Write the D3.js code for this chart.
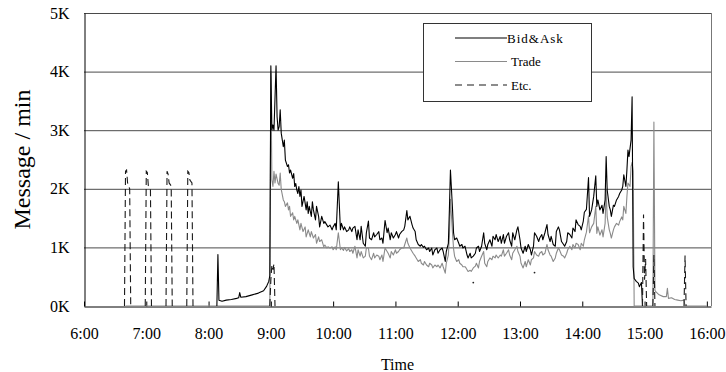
<!DOCTYPE html>
<html>
<head>
<meta charset="utf-8">
<script src="https://cdn.jsdelivr.net/npm/d3@7"></script>
<style>
  html, body { margin: 0; padding: 0; background: #fff; }
  svg { display: block; }
  svg text { font-family: "Liberation Serif", "Tinos", "Times New Roman", "DejaVu Serif", serif; }
</style>
</head>
<body>
<div id="chart"></div>
<script>
// Tick labels
const hourTicks = ["6:00", "7:00", "8:00", "9:00", "10:00", "11:00", "12:00", "13:00", "14:00", "15:00", "16:00"];
const yTicks = [0, 1000, 2000, 3000, 4000, 5000];
const xStart = "6:00", xEnd = "16:04";
const legendNames = ["Bid&Ask", "Trade", "Etc."];

// Messages per minute, [clock, value]
const bidAsk = [
  ["8:08", 0], ["8:09", 880], ["8:10", 100], ["8:13", 80], ["8:17", 100], ["8:22", 110], ["8:27", 130],
  ["8:29", 140], ["8:30", 230], ["8:31", 150], ["8:36", 160], ["8:42", 190], ["8:48", 220], ["8:53", 260],
  ["8:56", 340], ["8:58", 420], ["8:59", 520],
  ["9:00", 4100], ["9:01", 3000], ["9:02", 3090], ["9:03", 3000], ["9:05", 4100], ["9:06", 3230], ["9:07", 3000],
  ["9:08", 3060], ["9:09", 3350], ["9:10", 2950], ["9:12", 2720], ["9:13", 2830], ["9:14", 2490], ["9:16", 2380],
  ["9:17", 2410], ["9:18", 2270], ["9:19", 2320], ["9:21", 2180], ["9:22", 2260], ["9:23", 2040], ["9:24", 2090],
  ["9:25", 1980], ["9:26", 1920], ["9:27", 2040], ["9:28", 1870], ["9:29", 1980], ["9:30", 1700], ["9:32", 1870],
  ["9:33", 1760], ["9:34", 1640], ["9:35", 1780], ["9:36", 1580], ["9:37", 1700], ["9:39", 1530], ["9:40", 1780],
  ["9:41", 1640], ["9:43", 1470], ["9:44", 1700], ["9:46", 1530], ["9:47", 1350], ["9:49", 1530], ["9:51", 1410],
  ["9:52", 1440], ["9:54", 1380], ["9:55", 1350], ["9:57", 1380], ["9:59", 1300], ["10:00", 1350], ["10:02", 1410],
  ["10:03", 1300], ["10:05", 2120], ["10:07", 1300], ["10:08", 1410], ["10:10", 1300], ["10:11", 1350], ["10:13", 1270],
  ["10:15", 1300], ["10:16", 1350], ["10:18", 1270], ["10:19", 1330], ["10:21", 1360], ["10:23", 1130], ["10:24", 1300],
  ["10:26", 1130], ["10:27", 1360], ["10:29", 1070], ["10:31", 1020], ["10:32", 1250], ["10:34", 1450], ["10:35", 1160],
  ["10:37", 1130], ["10:39", 1250], ["10:40", 1180], ["10:42", 1220], ["10:44", 1270], ["10:45", 1130], ["10:47", 1160],
  ["10:48", 1070], ["10:50", 1460], ["10:52", 1250], ["10:53", 1330], ["10:55", 1130], ["10:56", 1250], ["10:58", 1160],
  ["11:00", 1220], ["11:01", 1270], ["11:03", 1160], ["11:04", 1220], ["11:06", 1270], ["11:08", 1300], ["11:09", 1360],
  ["11:11", 1630], ["11:12", 1470], ["11:14", 1530], ["11:16", 1390], ["11:17", 1330], ["11:19", 1270], ["11:20", 1130],
  ["11:22", 1050], ["11:24", 1020], ["11:25", 1050], ["11:27", 1000], ["11:28", 1020], ["11:30", 960], ["11:32", 990],
  ["11:33", 930], ["11:35", 990], ["11:36", 870], ["11:38", 960], ["11:40", 990], ["11:41", 900], ["11:43", 960],
  ["11:45", 990], ["11:46", 930], ["11:48", 760], ["11:49", 930], ["11:51", 1070], ["11:52", 1650], ["11:53", 2320],
  ["11:55", 1650], ["11:56", 1250], ["11:57", 1130], ["11:59", 1160], ["12:01", 1070], ["12:02", 1020], ["12:04", 1050],
  ["12:05", 990], ["12:07", 1020], ["12:09", 870], ["12:10", 820], ["12:12", 900], ["12:13", 820], ["12:15", 850],
  ["12:17", 900], ["12:18", 990], ["12:20", 1020], ["12:21", 930], ["12:23", 1020], ["12:25", 1250], ["12:26", 1070],
  ["12:28", 960], ["12:29", 1050], ["12:31", 1130], ["12:33", 1020], ["12:34", 1190], ["12:36", 1130], ["12:37", 1220],
  ["12:39", 1100], ["12:41", 1190], ["12:42", 1070], ["12:44", 1220], ["12:45", 1070], ["12:47", 1190], ["12:49", 1250],
  ["12:50", 1130], ["12:52", 1020], ["12:53", 1250], ["12:55", 1130], ["12:57", 1300], ["12:58", 1350], ["13:00", 1130],
  ["13:01", 990], ["13:03", 900], ["13:05", 1020], ["13:06", 930], ["13:08", 1050], ["13:10", 960], ["13:11", 870],
  ["13:13", 1020], ["13:14", 1250], ["13:16", 1190], ["13:18", 1100], ["13:19", 1160], ["13:21", 1220], ["13:22", 1130],
  ["13:24", 1250], ["13:26", 1390], ["13:27", 1220], ["13:29", 1100], ["13:30", 1190], ["13:32", 1050], ["13:34", 1020],
  ["13:35", 1270], ["13:37", 1350], ["13:38", 1300], ["13:40", 1100], ["13:42", 1050], ["13:43", 1020], ["13:45", 1100],
  ["13:46", 1250], ["13:48", 1220], ["13:50", 1160], ["13:51", 1330], ["13:53", 1270], ["13:54", 1470], ["13:56", 1390],
  ["13:58", 1360], ["13:59", 1300], ["14:01", 1450], ["14:02", 1600], ["14:04", 1650], ["14:06", 2190], ["14:07", 1530],
  ["14:09", 1640], ["14:11", 1870], ["14:13", 2220], ["14:14", 1700], ["14:15", 1810], ["14:17", 1640], ["14:19", 1720],
  ["14:20", 1580], ["14:22", 1810], ["14:23", 2550], ["14:24", 1980], ["14:26", 1700], ["14:27", 1640], ["14:28", 1530],
  ["14:30", 1720], ["14:31", 1700], ["14:33", 1810], ["14:35", 1870], ["14:36", 1920], ["14:38", 1980], ["14:39", 2040],
  ["14:40", 2240], ["14:42", 2040], ["14:43", 2320], ["14:44", 2660], ["14:45", 2550], ["14:47", 2830], ["14:48", 3570],
  ["14:49", 670], ["14:50", 470], ["14:52", 420], ["14:54", 390], ["14:55", 330], ["14:57", 400], ["14:58", 0]
];

const trade = [
  ["6:40", 0], ["8:59", 0],
  ["9:00", 4000], ["9:01", 2150], ["9:02", 2040], ["9:03", 2300], ["9:04", 2100], ["9:05", 2250], ["9:07", 2090],
  ["9:08", 2060], ["9:09", 2270], ["9:10", 1990], ["9:12", 1810], ["9:13", 1780], ["9:14", 1700], ["9:16", 1760],
  ["9:17", 1640], ["9:18", 1700], ["9:19", 1530], ["9:21", 1590], ["9:22", 1470], ["9:23", 1530], ["9:25", 1410],
  ["9:26", 1470], ["9:28", 1300], ["9:29", 1410], ["9:31", 1270], ["9:33", 1350], ["9:34", 1180], ["9:36", 1300],
  ["9:38", 1180], ["9:39", 1270], ["9:41", 1160], ["9:43", 1220], ["9:44", 1070], ["9:46", 1180], ["9:47", 1100],
  ["9:49", 1130], ["9:51", 1010], ["9:52", 1040], ["9:54", 990], ["9:55", 1010], ["9:57", 990], ["9:59", 1010],
  ["10:00", 960], ["10:02", 1010], ["10:03", 960], ["10:05", 1250], ["10:07", 960], ["10:08", 990], ["10:10", 950],
  ["10:11", 1000], ["10:13", 940], ["10:15", 980], ["10:16", 930], ["10:18", 960], ["10:19", 900], ["10:21", 1020],
  ["10:23", 820], ["10:24", 960], ["10:26", 850], ["10:27", 930], ["10:29", 820], ["10:31", 850], ["10:32", 990],
  ["10:34", 990], ["10:35", 850], ["10:37", 790], ["10:39", 900], ["10:40", 820], ["10:42", 870], ["10:44", 850],
  ["10:45", 790], ["10:47", 870], ["10:48", 760], ["10:50", 990], ["10:52", 930], ["10:53", 900], ["10:55", 820],
  ["10:56", 930], ["10:58", 870], ["11:00", 960], ["11:01", 900], ["11:03", 930], ["11:04", 960], ["11:06", 990],
  ["11:08", 990], ["11:09", 1050], ["11:11", 1160], ["11:12", 1070], ["11:14", 990], ["11:16", 930], ["11:17", 900],
  ["11:19", 850], ["11:20", 820], ["11:22", 760], ["11:24", 790], ["11:25", 730], ["11:27", 700], ["11:28", 760],
  ["11:30", 700], ["11:32", 670], ["11:33", 730], ["11:35", 700], ["11:36", 650], ["11:38", 700], ["11:40", 670],
  ["11:41", 700], ["11:43", 650], ["11:45", 730], ["11:46", 670], ["11:48", 560], ["11:49", 730], ["11:51", 870],
  ["11:52", 1190], ["11:53", 1820], ["11:55", 1240], ["11:56", 980], ["11:57", 850], ["11:59", 760], ["12:01", 790],
  ["12:02", 730], ["12:04", 700], ["12:05", 670], ["12:07", 670], ["12:08", 650], ["12:10", 590], ["12:12", 610],
  ["12:13", 590], ["12:15", 650], ["12:17", 680], ["12:18", 730], ["12:20", 650], ["12:21", 760], ["12:23", 850],
  ["12:25", 930], ["12:26", 730], ["12:28", 670], ["12:29", 760], ["12:31", 820], ["12:33", 790], ["12:34", 850],
  ["12:36", 820], ["12:37", 870], ["12:39", 820], ["12:41", 870], ["12:42", 850], ["12:44", 960], ["12:45", 850],
  ["12:47", 900], ["12:49", 960], ["12:50", 870], ["12:52", 790], ["12:53", 900], ["12:55", 960], ["12:57", 1020],
  ["12:58", 930], ["13:00", 850], ["13:01", 730], ["13:03", 650], ["13:05", 760], ["13:06", 670], ["13:08", 790],
  ["13:10", 700], ["13:11", 790], ["13:13", 820], ["13:14", 930], ["13:16", 870], ["13:18", 850], ["13:19", 900],
  ["13:21", 930], ["13:22", 870], ["13:24", 900], ["13:26", 1050], ["13:27", 960], ["13:29", 870], ["13:30", 850],
  ["13:32", 760], ["13:34", 820], ["13:35", 900], ["13:37", 990], ["13:38", 960], ["13:40", 870], ["13:42", 850],
  ["13:43", 820], ["13:45", 900], ["13:46", 960], ["13:48", 1020], ["13:50", 960], ["13:51", 1050], ["13:53", 990],
  ["13:54", 1070], ["13:56", 1050], ["13:58", 960], ["13:59", 1070], ["14:01", 1020], ["14:02", 1130], ["14:04", 1260],
  ["14:06", 1540], ["14:07", 1250], ["14:09", 1350], ["14:11", 1410], ["14:13", 1700], ["14:14", 1240], ["14:15", 1350],
  ["14:17", 1210], ["14:19", 1300], ["14:20", 1180], ["14:22", 1410], ["14:23", 1980], ["14:24", 1520], ["14:26", 1300],
  ["14:27", 1240], ["14:28", 1160], ["14:30", 1300], ["14:31", 1350], ["14:33", 1410], ["14:35", 1380], ["14:36", 1440],
  ["14:38", 1520], ["14:39", 1470], ["14:40", 1700], ["14:42", 1580], ["14:43", 1870], ["14:44", 2100], ["14:46", 2040],
  ["14:47", 2380], ["14:48", 2450], ["14:49", 2300], ["14:50", 0],
  ["15:08", 0], ["15:09", 3140], ["15:10", 270], ["15:11", 240], ["15:14", 190], ["15:18", 160], ["15:21", 160],
  ["15:22", 300], ["15:23", 130], ["15:26", 140], ["15:29", 110], ["15:32", 100], ["15:35", 90], ["15:38", 100],
  ["15:39", 0], ["16:00", 0]
];

// null breaks the dashed line into separate bursts
const etc = [
  ["6:39", 0], ["6:40", 2300], ["6:41", 2320], ["6:42", 2100], ["6:43", 2050], ["6:44", 2000], ["6:45", 0], ["6:46", null],
  ["6:59", 0], ["7:00", 2300], ["7:01", 2280], ["7:02", 2050], ["7:04", 2000], ["7:05", 0], ["7:06", null],
  ["7:19", 0], ["7:20", 2300], ["7:21", 2250], ["7:22", 2100], ["7:24", 2050], ["7:25", 0], ["7:26", null],
  ["7:39", 0], ["7:40", 2300], ["7:41", 2280], ["7:42", 2150], ["7:44", 2100], ["7:45", 0], ["7:46", null],
  ["8:59", 0], ["9:00", 450], ["9:01", 700], ["9:02", 620], ["9:03", 720], ["9:04", 0], ["9:05", null],
  ["12:15", 400], ["12:16", null],
  ["13:14", 570], ["13:15", null],
  ["14:58", 0], ["14:59", 1560], ["15:00", 450], ["15:01", 800], ["15:02", 0], ["15:03", null],
  ["15:08", 0], ["15:09", 870], ["15:10", 0], ["15:11", null],
  ["15:38", 0], ["15:39", 860], ["15:40", 0]
];

const W = 726, H = 372;
const parseClock = d3.timeParse("%H:%M");

const svg = d3.select("#chart").append("svg")
  .attr("width", W).attr("height", H).attr("viewBox", `0 0 ${W} ${H}`);
svg.append("rect").attr("width", W).attr("height", H).attr("fill", "#fff");

const x = d3.scaleTime().domain([parseClock(xStart), parseClock(xEnd)]).range([84, 711]);
const y = d3.scaleLinear().domain([0, 5000]).range([306, 13]);

// Grid lines (5K line doubles as the top border).
svg.append("g")
  .selectAll("line").data(yTicks.slice(1)).join("line")
  .attr("x1", x.range()[0]).attr("x2", x.range()[1])
  .attr("y1", (d) => y(d) + 0.5).attr("y2", (d) => y(d) + 0.5)
  .attr("stroke", "#4a4a4a").attr("stroke-width", 1);
svg.append("line")
  .attr("x1", x.range()[1] + 0.5).attr("x2", x.range()[1] + 0.5)
  .attr("y1", y(5000)).attr("y2", y(0))
  .attr("stroke", "#777").attr("stroke-width", 1);

// Axes
const xAxis = svg.append("g").attr("transform", `translate(0,${y(0) + 0.5})`)
  .call(d3.axisBottom(x)
    .tickValues(hourTicks.map(parseClock))
    .tickFormat(d3.timeFormat("%-H:%M"))
    .tickSizeInner(-5).tickSizeOuter(0).tickPadding(21));
xAxis.select(".domain").attr("stroke", "#000");
xAxis.selectAll(".tick line").attr("stroke", "#000");
xAxis.selectAll("text").attr("font-size", 16).attr("fill", "#000");

const yAxis = svg.append("g").attr("transform", `translate(${x.range()[0] + 0.5},0)`)
  .call(d3.axisLeft(y).tickValues(yTicks).tickFormat((d) => d / 1000 + "K")
    .tickSize(0).tickPadding(15));
yAxis.select(".domain").attr("stroke", "#000");
yAxis.selectAll("text").attr("font-size", 16).attr("fill", "#000");

// Series
const line = d3.line()
  .defined((d) => d[1] != null)
  .x((d) => x(parseClock(d[0])))
  .y((d) => y(d[1]));

svg.append("path").datum(trade)
  .attr("fill", "none").attr("stroke", "#8a8a8a").attr("stroke-width", 1.1)
  .attr("stroke-linejoin", "round").attr("d", line);
svg.append("path").datum(bidAsk)
  .attr("fill", "none").attr("stroke", "#000").attr("stroke-width", 1.1)
  .attr("stroke-linejoin", "round").attr("d", line);
svg.append("path").datum(etc)
  .attr("fill", "none").attr("stroke", "#1a1a1a").attr("stroke-width", 1.1)
  .attr("stroke-dasharray", "7,4").attr("d", line);

// Isolated Etc. readings show up as dots.
const lonely = etc.filter((d, i) => d[1] != null
  && (i === 0 || etc[i - 1][1] == null) && (i === etc.length - 1 || etc[i + 1][1] == null));
svg.append("g").selectAll("circle").data(lonely).join("circle")
  .attr("cx", (d) => x(parseClock(d[0]))).attr("cy", (d) => y(d[1]))
  .attr("r", 0.9).attr("fill", "#222");

// Axis titles
svg.append("text")
  .attr("transform", `translate(30,${(y(0) + y(5000)) / 2}) rotate(-90)`)
  .attr("text-anchor", "middle").attr("font-size", 24).attr("fill", "#000")
  .text("Message / min");
svg.append("text")
  .attr("x", (x.range()[0] + x.range()[1]) / 2).attr("y", 370)
  .attr("text-anchor", "middle").attr("font-size", 16).attr("fill", "#000")
  .text("Time");

// Legend
const lg = svg.append("g");
lg.append("rect").attr("x", 423.5).attr("y", 23.5).attr("width", 168).attr("height", 78)
  .attr("fill", "#fff").attr("stroke", "#333").attr("stroke-width", 1);
const legendStyles = [
  { stroke: "#000", dash: null },
  { stroke: "#8a8a8a", dash: null },
  { stroke: "#1a1a1a", dash: "7,5" }
];
legendNames.forEach((name, i) => {
  const cy = 38 + i * 23.5;
  lg.append("line").attr("x1", 455).attr("x2", 507).attr("y1", cy).attr("y2", cy)
    .attr("stroke", legendStyles[i].stroke).attr("stroke-width", 1.1)
    .attr("stroke-dasharray", legendStyles[i].dash);
  lg.append("text").attr("x", i === 0 ? 507 : 511).attr("y", cy + 4.5)
    .attr("font-size", 13).attr("fill", "#000")
    .attr("letter-spacing", i === 0 ? 1 : 0)
    .text(name);
});
</script>
</body>
</html>
